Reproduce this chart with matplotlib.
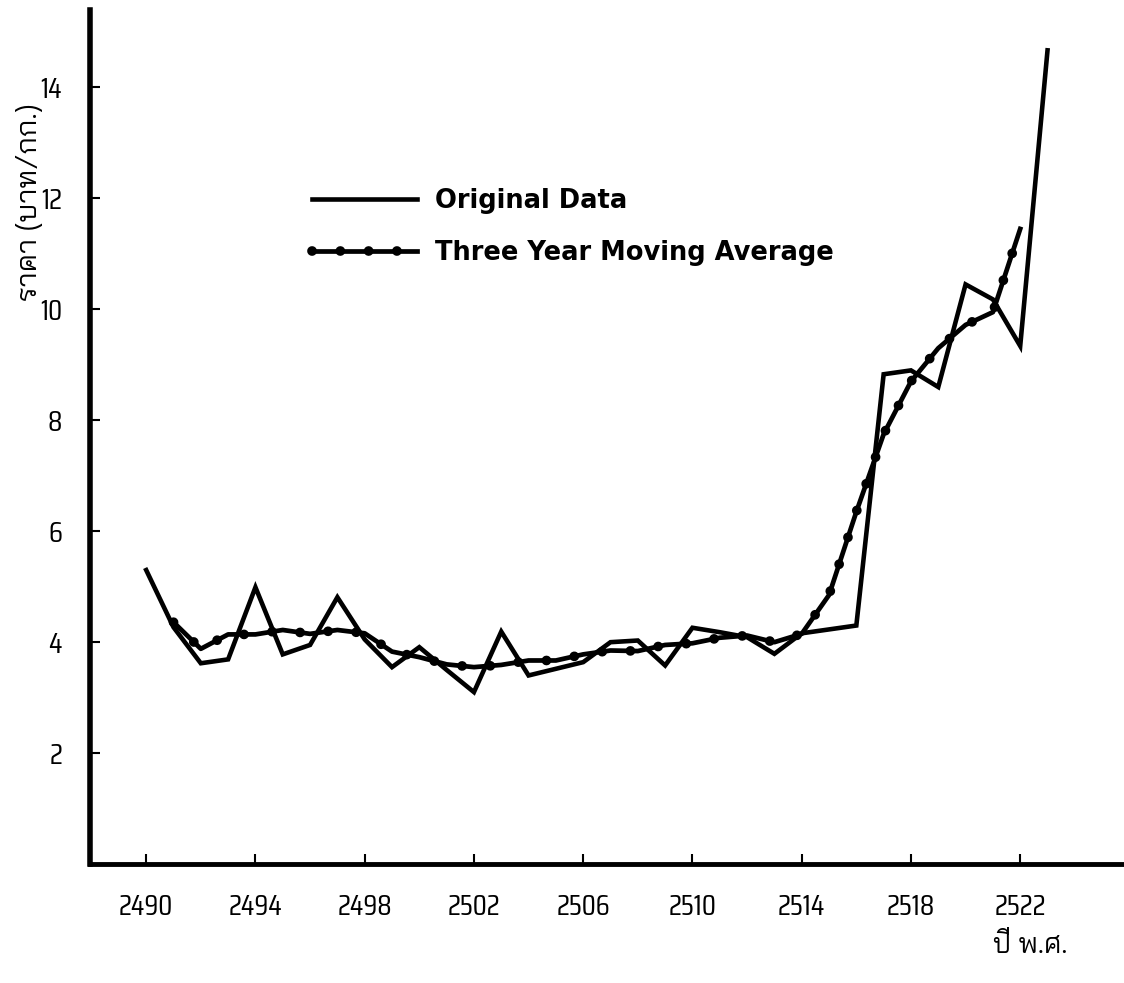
import matplotlib
matplotlib.use("Agg")
import matplotlib.pyplot as plt
from matplotlib.legend_handler import HandlerTuple

# price series (baht / kg), Thai Buddhist-era years
years = list(range(2490, 2524))
original = [5.30, 4.27, 3.62, 3.69, 4.99, 3.78, 3.95, 4.81, 4.05, 3.55,
            3.91, 3.50, 3.10, 4.19, 3.40, 3.52, 3.64, 4.00, 4.03, 3.58,
            4.26, 4.18, 4.09, 3.79, 4.16, 4.23, 4.30, 8.83, 8.90, 8.60,
            10.45, 10.18, 9.34, 14.67]

ma_years = list(range(2491, 2523))
moving_avg = [4.36, 3.88, 4.14, 4.14, 4.22, 4.15, 4.22, 4.16, 3.83, 3.73,
              3.60, 3.55, 3.59, 3.67, 3.67, 3.78, 3.85, 3.84, 3.95, 3.98,
              4.08, 4.12, 4.00, 4.15, 4.85, 6.35, 7.75, 8.70, 9.30, 9.72,
              9.95, 11.45]

x_ticks = list(range(2490, 2523, 4))
y_ticks = [2, 4, 6, 8, 10, 12, 14]

THAI = ["Bai Jamjuree", "DejaVu Sans"]
DIGITS = ["Saira Condensed", "Bai Jamjuree", "DejaVu Sans"]

fig = plt.figure(figsize=(11.24, 9.83), dpi=100)
ax = fig.add_axes([0.080, 0.121, 0.920, 0.869])

orig_line, = ax.plot(years, original, "-", color="black", lw=3.3,
                     solid_joinstyle="miter", label="Original Data")
ma_line, = ax.plot(ma_years, moving_avg, "-", color="black", lw=3.4)
ma_dots, = ax.plot(ma_years, moving_avg, color="black", lw=7,
                   linestyle=(0, (0.01, 2.9)), dash_capstyle="round")

ax.set_xlim(2487.94, 2525.8)
ax.set_ylim(0, 15.4)

for s in ["top", "right"]:
    ax.spines[s].set_visible(False)
ax.spines["left"].set_linewidth(4)
ax.spines["bottom"].set_linewidth(3.5)

ax.set_xticks(x_ticks)
ax.set_yticks(y_ticks)
ax.tick_params(direction="in", length=7, width=1.5, labelsize=21)
ax.tick_params(axis="x", pad=21)
ax.tick_params(axis="y", pad=20)
for lab in ax.get_xticklabels() + ax.get_yticklabels():
    lab.set_family(DIGITS)

fig.text(0.026, 1 - 202 / 983, "ราคา (บาท/กก.)", rotation=90, ha="center",
         va="center", fontsize=21, family=THAI)
fig.text(1030 / 1124, 1 - 946 / 983, "ปี พ.ศ.", ha="center", va="center",
         fontsize=20, family=THAI)

leg = ax.legend([orig_line, (ma_line, ma_dots)],
                ["Original Data", "Three Year Moving Average"],
                handler_map={tuple: HandlerTuple(ndivide=1)},
                loc="upper left", bbox_to_anchor=(0.192, 0.818),
                frameon=False, handlelength=4.1, handletextpad=0.7,
                labelspacing=1.0,
                prop={"family": "DejaVu Sans", "weight": "bold", "size": 18.5})

fig.savefig("out.png", dpi=100)
